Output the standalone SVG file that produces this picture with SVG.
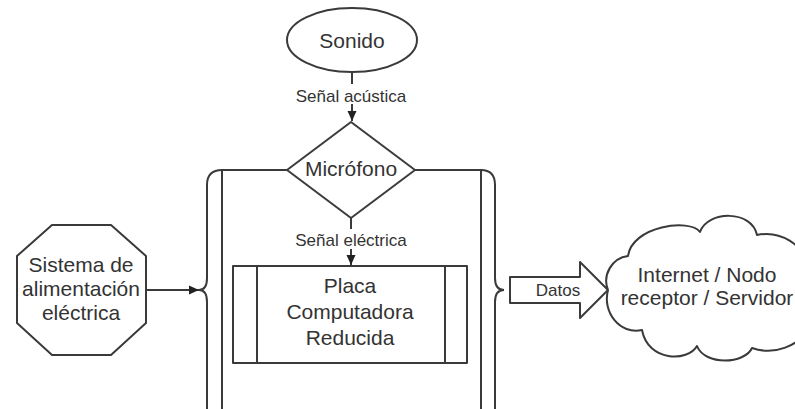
<svg xmlns="http://www.w3.org/2000/svg" width="795" height="409" viewBox="0 0 795 409">
<style>
.s{fill:#fff;stroke:#3a3a3a;stroke-width:2;stroke-linejoin:round}
.n{fill:none;stroke:#3a3a3a;stroke-width:2}
.t{font-family:"Liberation Sans",Arial,sans-serif;font-size:21px;fill:#333;text-anchor:middle}
.l{font-family:"Liberation Sans",Arial,sans-serif;font-size:17px;fill:#333;text-anchor:middle}
</style>
<defs>
<marker id="ah" markerWidth="10" markerHeight="10" refX="10" refY="5" orient="auto" markerUnits="userSpaceOnUse">
<path d="M0,0.5 L10,5 L0,9.5 Z" fill="#222"/>
</marker>
</defs>
<rect width="795" height="409" fill="#fff"/>
<g id="contenedor">
<path class="n" d="M222,409 L222,170 L287,170 M415,170 L481,170 L481,409"/>
<path class="n" d="M222,170 Q207,170 207,185 L207,278 Q207,290 199,290 Q207,290 207,302 L207,409"/>
<path class="n" d="M481,170 Q495,170 495,185 L495,278 Q495,290 504,290 Q495,290 495,302 L495,409"/>
</g>
<g id="connectors">
<line class="n" x1="352" y1="73" x2="352" y2="121" marker-end="url(#ah)"/>
<rect x="290" y="84" width="122" height="20" fill="#fff"/>
<text class="l" x="351" y="102">Señal acústica</text>
<line class="n" x1="351" y1="218" x2="351" y2="265" marker-end="url(#ah)"/>
<rect x="290" y="229" width="122" height="20" fill="#fff"/>
<text class="l" x="351" y="246">Señal eléctrica</text>
<line class="n" x1="146" y1="290" x2="199" y2="290" marker-end="url(#ah)"/>
</g>
<g id="sonido">
<ellipse class="s" cx="352" cy="40" rx="65" ry="32"/>
<text class="t" x="352" y="48">Sonido</text>
</g>
<g id="microfono">
<polygon class="s" points="351,122 415,170 351,218 287,170"/>
<text class="t" x="351" y="176">Micrófono</text>
</g>
<g id="placa">
<rect class="s" x="233" y="266" width="234" height="97"/>
<line class="n" x1="257" y1="266" x2="257" y2="363"/>
<line class="n" x1="445" y1="266" x2="445" y2="363"/>
<text class="t" x="350" y="293">Placa</text>
<text class="t" x="350" y="319">Computadora</text>
<text class="t" x="350" y="345">Reducida</text>
</g>
<g id="sistema">
<polygon class="s" points="52,225 111,225 146,256 146,323 111,355 52,355 17,323 17,256"/>
<text class="t" x="81" y="272">Sistema de</text>
<text class="t" x="81" y="296">alimentación</text>
<text class="t" x="81" y="320">eléctrica</text>
</g>
<g id="datos">
<polygon class="s" points="510,277 580,277 580,262 608,290 580,318 580,303 510,303"/>
<text class="l" x="558" y="296">Datos</text>
</g>
<g id="internet">
<path class="s" d="M608,290 C602,275 612,258 628,256 C632,226 690,218 700,232 C708,210 752,210 757,235 C780,230 805,245 805,265 L805,330 C800,345 775,356 752,348 C745,364 705,366 697,346 C688,362 648,362 642,330 C620,335 602,312 608,290 Z"/>
<text class="t" x="707" y="282">Internet / Nodo</text>
<text class="t" x="707" y="305">receptor / Servidor</text>
</g>
</svg>
